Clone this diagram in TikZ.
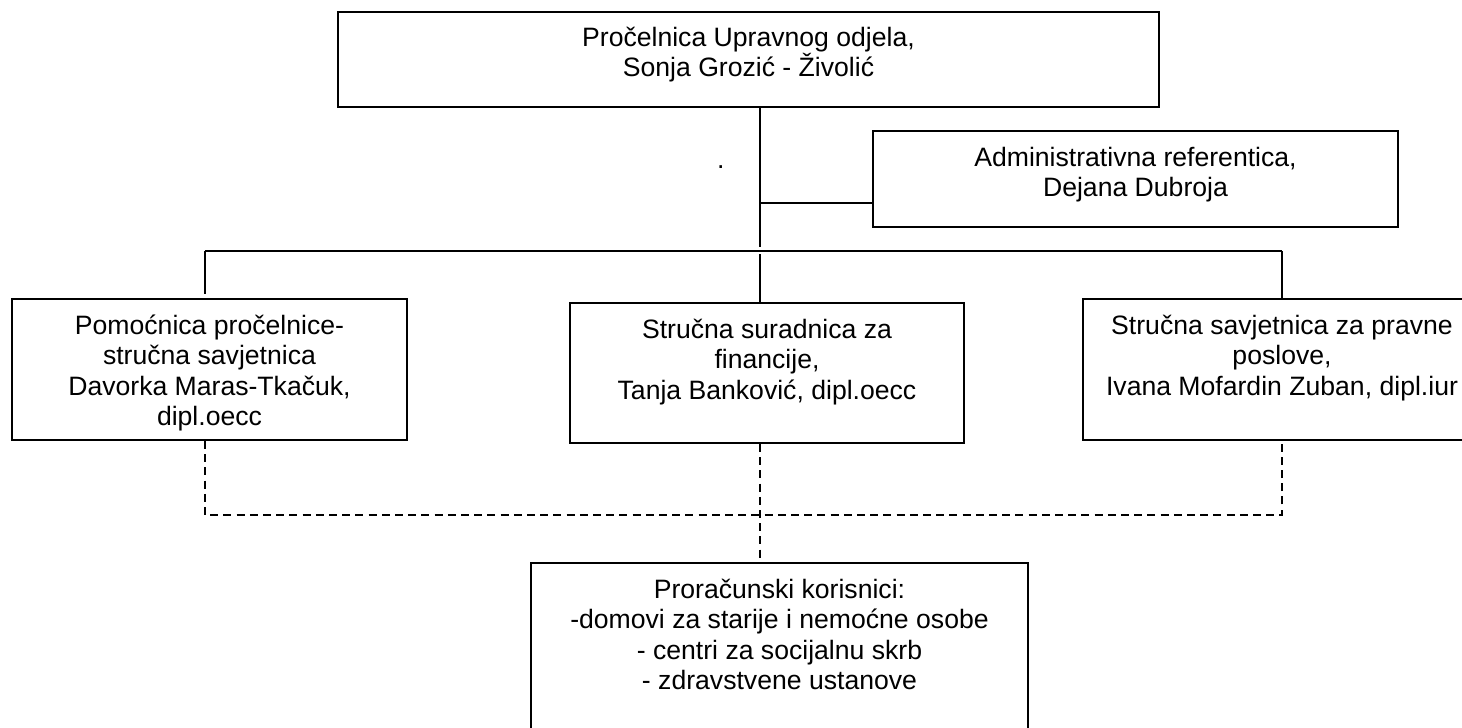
\documentclass[tikz,border=0pt]{standalone}
\usepackage{fontspec}
\setmainfont{Liberation Sans}
\newcommand{\fstrut}{\rule{0pt}{13pt}}
\begin{document}
\begin{tikzpicture}[x=0.5pt,y=-0.5pt,
  box/.style={draw, line width=1pt, inner sep=0pt},
  txt/.style={font=\fontsize{13.3pt}{15.2pt}\selectfont, align=center, inner sep=0pt, anchor=north},
  conn/.style={line width=0.9pt},
  dconn/.style={line width=0.9pt, dash pattern=on 4pt off 2.6pt}]
\fill[white] (0,0) rectangle (1462,728);
\useasboundingbox (0,0) rectangle (1462,728);
\clip (0,0) rectangle (1462,728);

% boxes
\node[box, minimum width=410.5pt, minimum height=47.5pt] (top) at (748.5,59.5) {};
\node[box, minimum width=262.5pt, minimum height=48pt] (admin) at (1135.5,179) {};
\node[box, minimum width=197.5pt, minimum height=70.5pt] (left) at (209.5,369.5) {};
\node[box, minimum width=197pt, minimum height=70pt] (mid) at (767,373) {};
\node[box, minimum width=199pt, minimum height=70.5pt] (right) at (1282,369.5) {};
\node[box, minimum width=248.5pt, minimum height=100pt] (bot) at (779.5,663) {};

% texts
\node[txt] (topT) at ([yshift=-4.5pt]top.north) {\fstrut Pročelnica Upravnog odjela,\\ Sonja Grozić - Živolić};
\node[txt] (adminT) at ([yshift=-5pt]admin.north) {\fstrut Administrativna referentica,\\ Dejana Dubroja};
\node[txt] (leftT) at ([yshift=-5pt]left.north) {\fstrut Pomoćnica pročelnice-\\ stručna savjetnica\\ Davorka Maras-Tkačuk,\\ dipl.oecc};
\node[txt] (midT) at ([yshift=-5pt]mid.north) {\fstrut Stručna suradnica za\\ financije,\\ Tanja Banković, dipl.oecc};
\node[txt] (rightT) at ([yshift=-5pt]right.north) {\fstrut Stručna savjetnica za pravne\\ poslove,\\ Ivana Mofardin Zuban, dipl.iur};
\node[txt] (botT) at ([yshift=-5pt]bot.north) {\fstrut Proračunski korisnici:\\ -domovi za starije i nemoćne osobe\\ - centri za socijalnu skrb\\ - zdravstvene ustanove};
\node[font=\fontsize{13.3pt}{15.2pt}\selectfont, inner sep=0pt, anchor=base] (dot) at (720.7,168) {.};

% solid connectors
\coordinate (busL) at (205,251);
\coordinate (busM) at (760,251);
\coordinate (busR) at (1282,251);
\coordinate (admJ) at (760,203);
\draw[conn] (top.south -| busM) -- ([yshift=2pt]busM);
\draw[conn] (admJ) -- (admJ -| admin.west);
\draw[conn] (busL) -- (busR);
\draw[conn] ([yshift=-1.5pt]busM) -- (mid.north -| busM);
\draw[conn] (busL) -- ([yshift=2pt]left.north -| busL);
\draw[conn] (busR) -- (right.north -| busR);

% dashed connectors
\coordinate (dL) at (205,515);
\coordinate (dR) at (1282,515);
\draw[dconn] (left.south -| dL) -- (dL) -- (dR) -- (right.south -| dR);
\draw[dconn] (mid.south -| busM) -- (bot.north -| busM);
\end{tikzpicture}
\end{document}
